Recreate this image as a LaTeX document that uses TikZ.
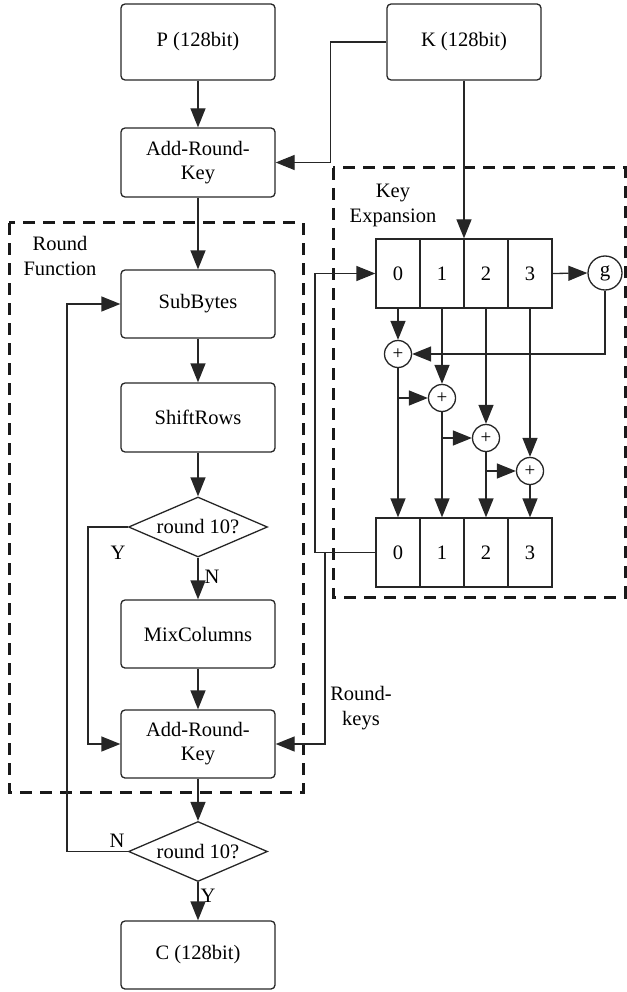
\documentclass[tikz,border=0pt]{standalone}
\usepackage{fontspec}
\setmainfont{Liberation Serif}
\usetikzlibrary{shapes.geometric,arrows.meta,calc}

\tikzset{
  line/.style={draw=black!85, line width=1.3pt},
  arr/.style={line, -{Triangle[length=19pt,width=15pt]}},
  proc/.style={line, rectangle, rounded corners=4pt, minimum width=154pt,
    inner sep=0pt, align=center, font=\fontsize{20.5}{24}\selectfont},
  cell/.style={line, rectangle, minimum width=44pt, minimum height=69pt,
    inner sep=0pt, font=\fontsize{20.5}{24}\selectfont},
  xorop/.style={line, circle, minimum size=27pt, inner sep=0pt,
    font=\fontsize{19}{20}\selectfont},
  gfun/.style={line, circle, minimum size=34pt, inner sep=0pt,
    font=\fontsize{21}{24}\selectfont},
  decide/.style={line, diamond, aspect=2.3, minimum width=139pt,
    minimum height=60pt, inner sep=0pt, font=\fontsize{20.5}{24}\selectfont},
  region/.style={draw=black!90, line width=3pt, dash pattern=on 12pt off 8pt},
  lbl/.style={align=center, inner sep=0pt, font=\fontsize{20.5}{25}\selectfont},
}

\begin{document}
\begin{tikzpicture}[x=1pt,y=-1pt]
\useasboundingbox (0,0) rectangle (626,992);

% dashed regions
\draw[region] (9,223) rectangle (303,792);
\draw[region] (333,168) rectangle (625,597);
\node[lbl] (rflabel) at (60,256) {Round\\Function};
\node[lbl] (kelabel) at (393,205) {Key\\Expansion};

% main flow
\node[proc, minimum height=76pt] (P) at (198,42) {P (128bit)};
\node[proc, minimum height=69pt] (ark1) at (198,162.5) {Add-Round-\\Key};
\node[proc, minimum height=76pt] (K) at (464,42) {K (128bit)};
\node[proc, minimum height=68pt] (sub) at (198,304) {SubBytes};
\node[proc, minimum height=69pt] (shift) at (198,417.5) {ShiftRows};
\node[decide] (dec1) at (198,527) {round 10?};
\node[proc, minimum height=68pt] (mix) at (198,634) {MixColumns};
\node[proc, minimum height=68pt] (ark2) at (198,744) {Add-Round-\\Key};
\node[decide] (dec2) at (198,851.5) {round 10?};
\node[proc, minimum height=68pt] (C) at (198,955) {C (128bit)};

% key words before and after expansion
\foreach \i/\x in {0/398,1/442,2/486,3/530} {
  \node[cell] (k\i) at (\x,273.5) {\i};
  \node[cell] (r\i) at (\x,552.5) {\i};
}
\node[gfun] (g) at (605,273) {g};
\node[xorop] (x1) at (398,354) {+};
\node[xorop] (x2) at (442,398) {+};
\node[xorop] (x3) at (486,438) {+};
\node[xorop] (x4) at (530,471) {+};

% main flow connectors
\draw[arr] (P) -- (ark1);
\draw[arr] (K.west) -- ++(-56,0) |- (ark1.east);
\draw[arr] (K.south) -- (K.south |- k0.north);
\draw[arr] (ark1) -- (sub);
\draw[arr] (sub) -- (shift);
\draw[arr] (shift) -- (dec1);
\draw[arr] (dec1) -- node[lbl, right=6pt, pos=0.45] {N} (mix);
\draw[arr] (dec1.west) -- (88,527) |- (ark2.west);
\node[lbl] (ylab1) at (118,553) {Y};
\draw[arr] (mix) -- (ark2);
\draw[arr] (ark2) -- (dec2);
\draw[arr] (dec2) -- node[lbl, right=2pt, pos=0.35] {Y} (C);
\draw[arr] (dec2.west) -- (67,851.5) |- (sub.west);
\node[lbl] (nlab2) at (117,841) {N};

% key expansion connectors
\draw[arr] (k3.east) -- (g.west);
\draw[arr] (g.south) |- (x1.east);
\draw[arr] (k0.south) -- (x1.north);
\draw[arr] (k1.south) -- (x2.north);
\draw[arr] (k2.south) -- (x3.north);
\draw[arr] (k3.south) -- (x4.north);
\draw[arr] (x1.south) -- (r0.north);
\draw[arr] (x2.south) -- (r1.north);
\draw[arr] (x3.south) -- (r2.north);
\draw[arr] (x4.south) -- (r3.north);
\draw[arr] (x1 |- x2) -- (x2.west);
\draw[arr] (x2 |- x3) -- (x3.west);
\draw[arr] (x3 |- x4) -- (x4.west);

% round keys fed back
\coordinate (tap) at (325,552.5);
\draw[arr] (r0.west) -- (315,552.5) |- (k0.west);
\draw[arr] (tap) |- (ark2.east);
\node[lbl] (rklabel) at (361,708) {Round-\\keys};
\end{tikzpicture}
\end{document}
